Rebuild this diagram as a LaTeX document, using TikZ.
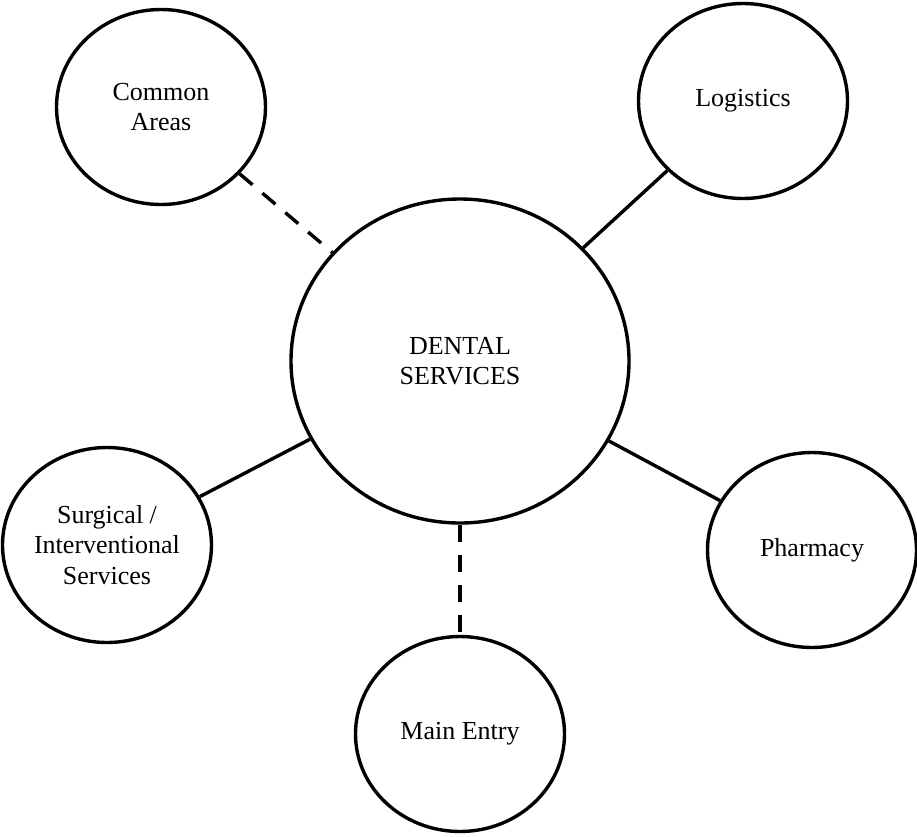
\documentclass[tikz,border=0pt]{standalone}
\usepackage{fontspec}
\setmainfont{Liberation Serif}
\usetikzlibrary{shapes.geometric}
\begin{document}
\begin{tikzpicture}[x=1pt,y=-1pt,
  bubble/.style={ellipse,draw=black,line width=3.4pt,inner sep=0pt,
    minimum width=209pt,minimum height=195pt,align=center,
    font=\fontsize{26}{30.5}\selectfont},
  hub/.style={bubble,minimum width=338pt,minimum height=324pt},
  link/.style={line width=3.4pt},
  dlink/.style={line width=3.4pt,dash pattern=on 17pt off 13pt}]
\useasboundingbox (0,0) rectangle (917,836);
\node[hub] (c) at (460,361) {DENTAL\\SERVICES};
\node[bubble] (ca) at (161,107) {Common\\Areas};
\node[bubble] (lo) at (743,101) {Logistics};
\node[bubble] (su) at (107,545) {Surgical /\\Interventional\\Services};
\node[bubble] (ph) at (812,550) {Pharmacy};
\node[bubble] (me) at (460,734) {Main Entry};
\draw[dlink] (ca) -- (c);
\draw[link] (c) -- (lo);
\draw[link] (c) -- (su);
\draw[link] (c) -- (ph);
\draw[dlink] (c) -- (me);
\end{tikzpicture}
\end{document}
